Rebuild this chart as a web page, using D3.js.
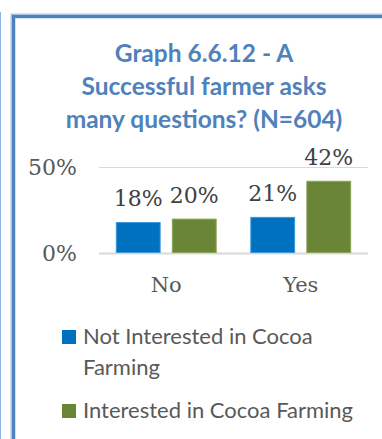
<!DOCTYPE html>
<html>
<head>
<meta charset="utf-8">
<script src="https://cdn.jsdelivr.net/npm/d3@7"></script>
<style>
  body { margin: 0; background: #fff; }
</style>
</head>
<body>
<svg></svg>
<script>
const categories = ["No", "Yes"];
const series = ["Not Interested in Cocoa Farming", "Interested in Cocoa Farming"];
const notInterested = [18, 21];
const interested = [20, 42];
const yTicks = [0, 50];
const titleLines = ["Graph 6.6.12 - A", "Successful farmer asks", "many questions? (N=604)"];
const legendLines = [["Not Interested in Cocoa", "Farming"], ["Interested in Cocoa Farming"]];

const colors = ["#0070c0", "#6a8535"];
const strokes = ["#3d97d8", "#8aa45a"];

const W = 382, H = 439;
const svg = d3.select("svg").attr("width", W).attr("height", H);

// frame: thin line at the very left, thick blue border top/left
svg.append("line")
  .attr("x1", 0.5).attr("x2", 0.5).attr("y1", 12).attr("y2", H)
  .attr("stroke", "#8db3e2").attr("stroke-width", 1);
svg.append("path")
  .attr("d", `M13,${H} V16 H${W}`)
  .attr("fill", "none").attr("stroke", "#a9c4e4").attr("stroke-width", 5);
svg.append("path")
  .attr("d", `M13.5,${H} V16.5 H${W}`)
  .attr("fill", "none").attr("stroke", "#4f81bd").attr("stroke-width", 3);

// title
svg.append("text")
  .attr("x", 204)
  .attr("y", 62)
  .attr("text-anchor", "middle")
  .style("font-family", "Lato, sans-serif")
  .style("font-weight", "bold")
  .style("font-size", "24.5px")
  .style("fill", "#4f81bd")
  .selectAll("tspan")
  .data(titleLines)
  .enter()
  .append("tspan")
  .attr("x", 204)
  .attr("dy", (d, i) => (i === 0 ? 0 : 33))
  .text((d) => d);

const margin = { top: 167, left: 99, right: 14 };
const plotW = W - margin.left - margin.right;

const y = d3.scaleLinear().domain([0, 50]).range([253, 167]);

const x0 = d3.scaleBand().domain(categories).range([margin.left, margin.left + plotW]);
const x1 = d3.scaleBand().domain(series).range([0, x0.bandwidth()])
  .paddingInner(0.2).paddingOuter(0.3);

// gridlines
svg.append("g")
  .selectAll("line")
  .data(yTicks)
  .enter()
  .append("line")
  .attr("x1", x0.range()[0])
  .attr("x2", x0.range()[1])
  .attr("y1", (d) => y(d) + 0.5)
  .attr("y2", (d) => y(d) + 0.5)
  .attr("stroke", "#d9d9d9")
  .attr("stroke-width", (d) => (d === 0 ? 2 : 1));

// y tick labels
svg.append("g")
  .selectAll("text")
  .data(yTicks)
  .enter()
  .append("text")
  .attr("x", 77)
  .attr("y", (d) => y(d))
  .attr("dy", "0.36em")
  .attr("text-anchor", "end")
  .style("font-family", "'DejaVu Serif', serif")
  .style("font-size", "22px")
  .style("fill", "#595959")
  .text((d) => d + "%");

// bars
const rows = categories.map((c, i) => ({
  cat: c,
  vals: [notInterested[i], interested[i]],
}));

const groups = svg.selectAll(".grp")
  .data(rows)
  .enter()
  .append("g")
  .attr("class", "grp")
  .attr("transform", (d) => `translate(${x0(d.cat)},0)`);

groups.selectAll("rect")
  .data((d) => d.vals.map((v, j) => ({ s: series[j], v, j })))
  .enter()
  .append("rect")
  .attr("x", (d) => x1(d.s) + 0.5)
  .attr("y", (d) => y(d.v) + 0.5)
  .attr("width", x1.bandwidth() - 1)
  .attr("height", (d) => y(0) - y(d.v) - 1)
  .attr("fill", (d) => colors[d.j])
  .attr("stroke", (d) => strokes[d.j])
  .attr("stroke-width", 1);

groups.selectAll(".lbl")
  .data((d) => d.vals.map((v, j) => ({ s: series[j], v, j })))
  .enter()
  .append("text")
  .attr("class", "lbl")
  .attr("x", (d) => x1(d.s) + x1.bandwidth() / 2)
  .attr("y", (d) => y(d.v) - 16)
  .attr("text-anchor", "middle")
  .style("font-family", "'DejaVu Serif', serif")
  .style("font-size", "22px")
  .style("fill", "#404040")
  .text((d) => d.v + "%");

// category labels
svg.append("g")
  .selectAll("text")
  .data(categories)
  .enter()
  .append("text")
  .attr("x", (d) => x0(d) + x0.bandwidth() / 2)
  .attr("y", 292)
  .attr("text-anchor", "middle")
  .style("font-family", "'DejaVu Serif', serif")
  .style("font-size", "21px")
  .style("fill", "#595959")
  .text((d) => d);

// legend
const legendY = [330, 404];
series.forEach((s, i) => {
  const g = svg.append("g").attr("transform", `translate(62,${legendY[i]})`);
  g.append("rect")
    .attr("width", 14).attr("height", 14)
    .attr("fill", colors[i]);
  g.append("text")
    .attr("x", 21)
    .attr("y", 14)
    .style("font-family", "Lato, sans-serif")
    .style("font-size", "22px")
    .style("fill", "#595959")
    .selectAll("tspan")
    .data(legendLines[i])
    .enter()
    .append("tspan")
    .attr("x", 21)
    .attr("dy", (d, k) => (k === 0 ? 0 : 31))
    .text((d) => d);
});
</script>
</body>
</html>
